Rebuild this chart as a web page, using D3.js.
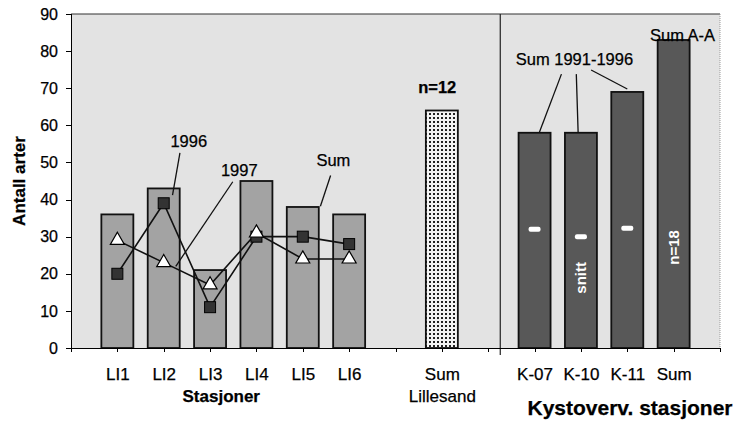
<!DOCTYPE html>
<meta charset="utf-8">
<style>
body { margin: 0; background: #fff; }
svg text { font-family: "Liberation Sans", Arial, Helvetica, sans-serif; fill: #000; stroke: #000; stroke-width: 0.25px; }
.axis path, .axis line { stroke: #000; shape-rendering: crispEdges; }
.axis text { font-size: 16px; }
.axis.xa text { font-size: 17px; }
.bold { font-weight: bold; }
</style>
<svg width="739" height="425"></svg>
<script src="https://cdn.jsdelivr.net/npm/d3@7"></script>
<script>

// slots on the category axis (blank slots are gaps)
var slots = ["g0","LI1","LI2","LI3","LI4","LI5","LI6","g7","Lillesand","g9","K-07","K-10","K-11","KSum","g14"];
var slotLabels = {"LI1":"LI1","LI2":"LI2","LI3":"LI3","LI4":"LI4","LI5":"LI5","LI6":"LI6",
                  "Lillesand":"Sum|Lillesand","K-07":"K-07","K-10":"K-10","K-11":"K-11","KSum":"Sum"};

var liStations = ["LI1","LI2","LI3","LI4","LI5","LI6"];
var liSum  = [36, 43, 21, 45, 38, 36];
var li1996 = [20, 39, 11, 30, 30, 28];
var li1997 = [29, 23, 17, 31, 24, 24];

var lillesandSum = 64;

var kStations = ["K-07","K-10","K-11","KSum"];
var kSum  = [58, 58, 69, 83];
var kMean = [32, 30, 32.3];   // "snitt" marks for K-07, K-10, K-11

var yTicks = [0,10,20,30,40,50,60,70,80,90];

var svg = d3.select("svg");
var pLeft = 71, pRight = 720, pTop = 14, pBottom = 348;

var x = d3.scalePoint().domain(slots).range([pLeft, pRight]).padding(0);
var y = d3.scaleLinear().domain([0, 90]).range([pBottom, pTop]);
var step = x.step();
function sx(s) { return pLeft + s * step; }   // fractional slot position
var bw = step * 0.69;

// dotted fill for the Lillesand bar
var defs = svg.append("defs");
var pat = defs.append("pattern").attr("id","dots").attr("patternUnits","userSpaceOnUse")
  .attr("width",4).attr("height",4);
pat.append("rect").attr("width",4).attr("height",4).attr("fill","#f4f4f4");
pat.append("rect").attr("x",1).attr("y",1).attr("width",2).attr("height",2).attr("fill","#222");

// plot background
svg.append("rect").attr("x",pLeft).attr("y",pTop).attr("width",pRight-pLeft).attr("height",pBottom-pTop)
  .attr("fill","#e3e3e3");
svg.append("line").attr("x1",pLeft).attr("x2",pRight).attr("y1",pTop).attr("y2",pTop)
  .attr("stroke","#333").attr("stroke-width",1.2);
svg.append("line").attr("x1",pRight).attr("x2",pRight).attr("y1",pTop).attr("y2",pBottom)
  .attr("stroke","#999").attr("stroke-dasharray","1,1");

// LI bars
svg.append("g").selectAll("rect").data(liStations).enter().append("rect")
  .attr("x", function(d){ return x(d) - bw/2; })
  .attr("y", function(d,i){ return y(liSum[i]); })
  .attr("width", bw)
  .attr("height", function(d,i){ return y(0) - y(liSum[i]); })
  .attr("fill","#a3a3a3").attr("stroke","#111").attr("stroke-width",1.8);

// Lillesand bar
svg.append("rect")
  .attr("x", x("Lillesand") - bw/2).attr("y", y(lillesandSum))
  .attr("width", bw).attr("height", y(0) - y(lillesandSum))
  .attr("fill","url(#dots)").attr("stroke","#111").attr("stroke-width",1.8);

// K bars
svg.append("g").selectAll("rect").data(kStations).enter().append("rect")
  .attr("x", function(d){ return x(d) - bw/2; })
  .attr("y", function(d,i){ return y(kSum[i]); })
  .attr("width", bw)
  .attr("height", function(d,i){ return y(0) - y(kSum[i]); })
  .attr("fill","#585858").attr("stroke","#111").attr("stroke-width",1.8);

// mean marks
svg.append("g").selectAll("rect").data(kMean).enter().append("rect")
  .attr("x", function(d,i){ return x(kStations[i]) - 6; })
  .attr("y", function(d){ return y(d) - 2.5; })
  .attr("width", 12).attr("height", 5).attr("rx", 2)
  .attr("fill","#fff");

svg.append("text").attr("class","bold").style("fill","#fff").style("stroke","none").style("font-size","15px")
  .attr("text-anchor","middle").attr("dy","0.35em")
  .attr("transform","translate(" + x("K-10") + "," + y(18.9) + ") rotate(-90)")
  .text("snitt");
svg.append("text").attr("class","bold").style("fill","#fff").style("stroke","none").style("font-size","15px")
  .attr("text-anchor","middle").attr("dy","0.35em")
  .attr("transform","translate(" + x("KSum") + "," + y(27.1) + ") rotate(-90)")
  .text("n=18");

// divider between Lillesand and Kystovervåking
var divX = x("g9") + step * 0.26;
svg.append("line").attr("x1",divX).attr("x2",divX).attr("y1",pTop).attr("y2",pBottom + 7)
  .attr("stroke","#222").attr("stroke-width",1.2);

// lines 1996 and 1997
var line = d3.line().x(function(d){ return x(d[0]); }).y(function(d){ return y(d[1]); });
svg.append("path").datum(d3.zip(liStations, li1997)).attr("d", line)
  .attr("fill","none").attr("stroke","#111").attr("stroke-width",1.6);
svg.append("path").datum(d3.zip(liStations, li1996)).attr("d", line)
  .attr("fill","none").attr("stroke","#111").attr("stroke-width",1.6);

svg.append("g").selectAll("rect").data(li1996).enter().append("rect")
  .attr("x", function(d,i){ return x(liStations[i]) - 5.5; })
  .attr("y", function(d){ return y(d) - 5.5; })
  .attr("width", 11).attr("height", 11)
  .attr("fill","#333").attr("stroke","#000").attr("stroke-width",1);

svg.append("g").selectAll("path").data(li1997).enter().append("path")
  .attr("d", d3.symbol().type(d3.symbolTriangle).size(85))
  .attr("transform", function(d,i){ return "translate(" + x(liStations[i]) + "," + y(d) + ")"; })
  .attr("fill","#fff").attr("stroke","#000").attr("stroke-width",1.2);

// axes
var yAxis = d3.axisLeft(y).tickValues(yTicks).tickSize(5).tickPadding(8);
svg.append("g").attr("class","axis").attr("transform","translate(" + pLeft + ",0)").call(yAxis)
  .call(function(g){ g.select(".domain").attr("stroke-width",1.5); });

var xAxis = d3.axisBottom(x).tickSize(4).tickPadding(16)
  .tickFormat(function(d){ return slotLabels[d] || ""; });
var gx = svg.append("g").attr("class","axis xa").attr("transform","translate(0," + pBottom + ")").call(xAxis);
gx.select(".domain").attr("stroke-width",1.5);
gx.selectAll(".tick text").each(function(d){
  var lab = slotLabels[d];
  if (lab && lab.indexOf("|") >= 0) {
    var parts = lab.split("|"), t = d3.select(this).text("");
    parts.forEach(function(p, i){
      t.append("tspan").attr("x", 0).attr("dy", i === 0 ? "0.71em" : "1.3em").text(p);
    });
  }
});

// axis titles
svg.append("text").attr("class","bold").style("font-size","17px").attr("text-anchor","middle")
  .attr("transform","translate(25,181) rotate(-90)").text("Antall arter");
svg.append("text").attr("class","bold").style("font-size","17px").attr("text-anchor","middle")
  .attr("x", x("LI3") + step/2 - 12).attr("y", 402).text("Stasjoner");
svg.append("text").attr("class","bold").style("font-size","21px").attr("text-anchor","middle")
  .attr("x", 630).attr("y", 415).text("Kystoverv. stasjoner");

// annotations, in slot / value units
var notes = [
  {text:"1996", s:2.54, v:54.2, anchor:"middle", lines:[[2.35,52.6,2.19,41.2]]},
  {text:"1997", s:3.63, v:46.3, anchor:"middle", lines:[[3.49,44.8,2.26,22]]},
  {text:"Sum",  s:5.66, v:49,   anchor:"middle", lines:[[5.6,46.5,5.38,38.2]]},
  {text:"n=12", s:7.9,  v:68.8, anchor:"middle", bold:true, lines:[]},
  {text:"Sum 1991-1996", s:10.86, v:76.3, anchor:"middle",
     lines:[[10.58,73.8,10.1,58],[10.9,73.8,10.94,58],[11.22,74.9,12,69.8]]},
  {text:"Sum A-A", s:12.49, v:82.7, anchor:"start", lines:[]}
];
notes.forEach(function(n){
  n.lines.forEach(function(l){
    svg.append("line").attr("x1",sx(l[0])).attr("y1",y(l[1])).attr("x2",sx(l[2])).attr("y2",y(l[3]))
      .attr("stroke","#111").attr("stroke-width",1.3);
  });
  svg.append("text").attr("class", n.bold ? "bold" : null).style("font-size","16.5px")
    .attr("text-anchor", n.anchor).attr("x", sx(n.s)).attr("y", y(n.v)).text(n.text);
});

</script>
